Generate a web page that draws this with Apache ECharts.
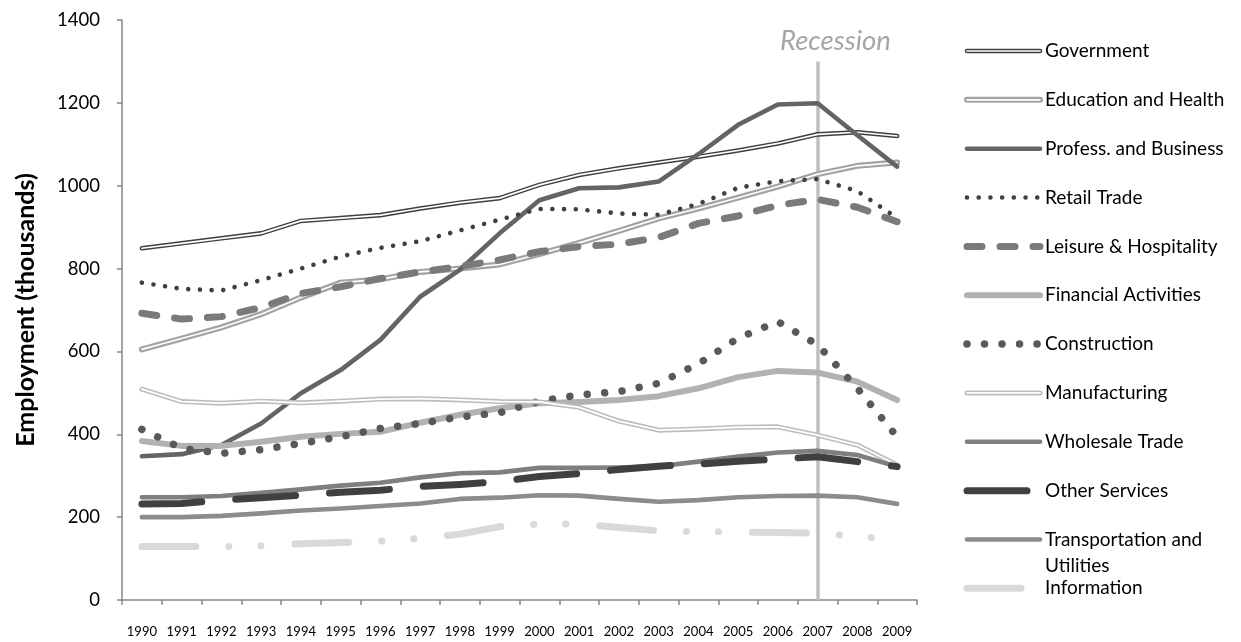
<!DOCTYPE html>
<html>
<head>
<meta charset="utf-8">
<script src="https://cdn.jsdelivr.net/npm/echarts@6/dist/echarts.min.js"></script>
<style>
html,body{margin:0;padding:0;background:#fff;}
#chart{width:1241px;height:642px;}
</style>
</head>
<body>
<div id="chart"></div>
<script>
// ---- data ----
const years = ['1990','1991','1992','1993','1994','1995','1996','1997','1998','1999','2000','2001','2002','2003','2004','2005','2006','2007','2008','2009'];
const yTicks = { min: 0, max: 1400, interval: 200 };
const government    = [849, 861, 873, 885, 915, 922, 929, 945, 959, 970, 1002, 1026, 1042, 1056, 1070, 1085, 1102, 1124, 1129, 1120];
const eduHealth     = [605, 631, 658, 690, 730, 766, 774, 792, 800, 810, 835, 862, 891, 921, 945, 971, 998, 1028, 1048, 1056];
const professBus    = [347, 352, 374, 426, 499, 555, 628, 732, 797, 885, 965, 994, 996, 1010, 1076, 1147, 1196, 1199, 1122, 1046];
const retailTrade   = [766, 751, 747, 772, 800, 829, 850, 866, 892, 918, 944, 943, 933, 930, 956, 995, 1011, 1016, 987, 922];
const leisureHosp   = [692, 678, 684, 706, 740, 756, 776, 792, 805, 821, 841, 853, 859, 875, 909, 927, 953, 967, 948, 913];
const financial     = [384, 372, 372, 382, 394, 401, 406, 428, 447, 463, 475, 478, 483, 492, 511, 538, 553, 549, 527, 483];
const construction  = [412, 366, 354, 363, 378, 394, 414, 426, 442, 452, 480, 495, 503, 523, 570, 632, 672, 616, 511, 394];
const manufacturing = [509, 479, 475, 480, 476, 480, 485, 486, 483, 479, 478, 465, 432, 410, 413, 417, 418, 398, 374, 326];
const wholesale     = [248, 248, 251, 259, 267, 276, 283, 296, 306, 308, 319, 319, 320, 323, 334, 346, 356, 360, 350, 322];
const otherServices = [232, 233, 241, 247, 253, 260, 265, 274, 279, 286, 298, 305, 315, 323, 328, 335, 340, 346, 334, 322];
const transport     = [200, 200, 203, 209, 216, 221, 227, 233, 244, 247, 253, 252, 244, 237, 241, 248, 251, 252, 248, 232];
const information   = [129, 129, 129, 131, 136, 139, 142, 149, 159, 177, 183, 184, 175, 167, 165, 164, 163, 161, 153, 146];
const recessionYear = '2007';
const recessionTop = 1300;
const recessionLabel = 'Recession';
const yAxisTitle = 'Employment (thousands)';

// ---- styles ----
const FONT = 'Lato, "Open Sans", sans-serif';
const seriesDefs = [
  { name: 'Government', data: government, color: '#3f3f3f', width: 4.6, inner: 1.7 },
  { name: 'Education and Health', data: eduHealth, color: '#a3a3a3', width: 6, inner: 1.6 },
  { name: 'Profess. and Business', data: professBus, color: '#646464', width: 4.6 },
  { name: 'Retail Trade', data: retailTrade, color: '#3f3f3f', width: 4.6, dash: [0.01, 11.7] },
  { name: 'Leisure & Hospitality', data: leisureHosp, color: '#7a7a7a', width: 7, dash: [15, 18] },
  { name: 'Financial Activities', data: financial, color: '#b2b2b2', width: 6 },
  { name: 'Construction', data: construction, color: '#595959', width: 7.5, dash: [0.01, 17.5] },
  { name: 'Manufacturing', data: manufacturing, color: '#bdbdbd', width: 5, inner: 1.8 },
  { name: 'Wholesale Trade', data: wholesale, color: '#7f7f7f', width: 4.6 },
  { name: 'Other Services', data: otherServices, color: '#404040', width: 7, dash: [60, 34], legendX2: 1028 },
  { name: 'Transportation and Utilities', label: 'Transportation and\nUtilities', data: transport, color: '#8c8c8c', width: 4.6 },
  { name: 'Information', data: information, color: '#d9d9d9', width: 7, dash: [54, 33, 0.01, 32, 0.01, 34], legendX2: 1028 }
];

const series = [];
// host series for the recession marker line (drawn beneath the data lines)
series.push({
  name: 'recession',
  type: 'line',
  data: [],
  symbol: 'none',
  z: 1,
  markLine: {
    silent: true, symbol: 'none', z: 1, animation: false,
    label: { show: false },
    lineStyle: { color: '#bfbfbf', width: 3.5, type: 'solid', cap: 'butt' },
    emphasis: { disabled: true },
    data: [[{ coord: [recessionYear, recessionTop] }, { coord: [recessionYear, 0] }]]
  }
});
seriesDefs.forEach(function (d) {
  series.push({
    name: d.name,
    type: 'line',
    data: d.data,
    symbol: 'none',
    z: 2,
    lineStyle: {
      color: d.color, width: d.width,
      type: d.dash ? d.dash : 'solid',
      cap: 'round', join: 'round'
    },
    emphasis: { disabled: true }
  });
  if (d.inner) {
    series.push({
      name: d.name + ' ',
      type: 'line', data: d.data, symbol: 'none', z: 2,
      lineStyle: { color: '#ffffff', width: d.inner, cap: 'round', join: 'round' },
      emphasis: { disabled: true }
    });
  }
});

// ---- custom legend (graphic) ----
const legendGraphics = [];
const LEG_Y0 = 51, LEG_STEP = 48.85, LEG_X1 = 967, LEG_X2 = 1040, LEG_TX = 1045, LEG_LH = 26.5;
seriesDefs.forEach(function (d, i) {
  const y = LEG_Y0 + i * LEG_STEP;
  const x2 = d.legendX2 || LEG_X2;
  legendGraphics.push({
    type: 'line', silent: true,
    shape: { x1: LEG_X1, y1: y, x2: x2, y2: y },
    style: { stroke: d.color, lineWidth: d.width, lineCap: 'round', lineDash: d.dash || null }
  });
  if (d.inner) {
    legendGraphics.push({
      type: 'line', silent: true,
      shape: { x1: LEG_X1, y1: y, x2: x2, y2: y },
      style: { stroke: '#fff', lineWidth: d.inner, lineCap: 'round' }
    });
  }
  legendGraphics.push({
    type: 'text', silent: true, x: LEG_TX, y: y - LEG_LH / 2,
    style: {
      text: d.label || d.name, fill: '#000',
      fontSize: 19, fontFamily: FONT,
      lineHeight: LEG_LH, verticalAlign: 'top', align: 'left'
    }
  });
});
legendGraphics.push({
  type: 'text', silent: true, x: 780, y: 41,
  style: {
    text: recessionLabel, fill: '#a6a6a6', fontSize: 27.5, fontStyle: 'italic',
    fontFamily: FONT, verticalAlign: 'middle', align: 'left'
  }
});

const chart = echarts.init(document.getElementById('chart'), null, { renderer: 'canvas' });
chart.setOption({
  animation: false,
  backgroundColor: '#ffffff',
  textStyle: { fontFamily: FONT },
  grid: { left: 122, right: 324, top: 20, bottom: 42, containLabel: false, outerBoundsMode: 'none' },
  xAxis: {
    type: 'category',
    data: years,
    boundaryGap: true,
    axisLine: { lineStyle: { color: '#878787', width: 1.5 } },
    axisTick: { show: true, length: 5, lineStyle: { color: '#878787', width: 1.5 } },
    axisLabel: { color: '#000', fontSize: 13, margin: 25, interval: 0, fontFamily: FONT },
    splitLine: { show: false }
  },
  yAxis: {
    type: 'value',
    min: yTicks.min, max: yTicks.max, interval: yTicks.interval,
    name: yAxisTitle,
    nameLocation: 'middle',
    nameRotate: 90,
    nameGap: 84,
    nameTextStyle: { color: '#000', fontSize: 25, fontWeight: 'bold', fontFamily: FONT },
    axisLine: { show: true, lineStyle: { color: '#878787', width: 1.5 } },
    axisTick: { show: true, length: 5, lineStyle: { color: '#878787', width: 1.5 } },
    axisLabel: {
      color: '#000', fontSize: 18.5, margin: 22, fontFamily: FONT,
      formatter: function (v) { return String(v); }
    },
    splitLine: { show: false }
  },
  graphic: legendGraphics,
  series: series
});
</script>
</body>
</html>
